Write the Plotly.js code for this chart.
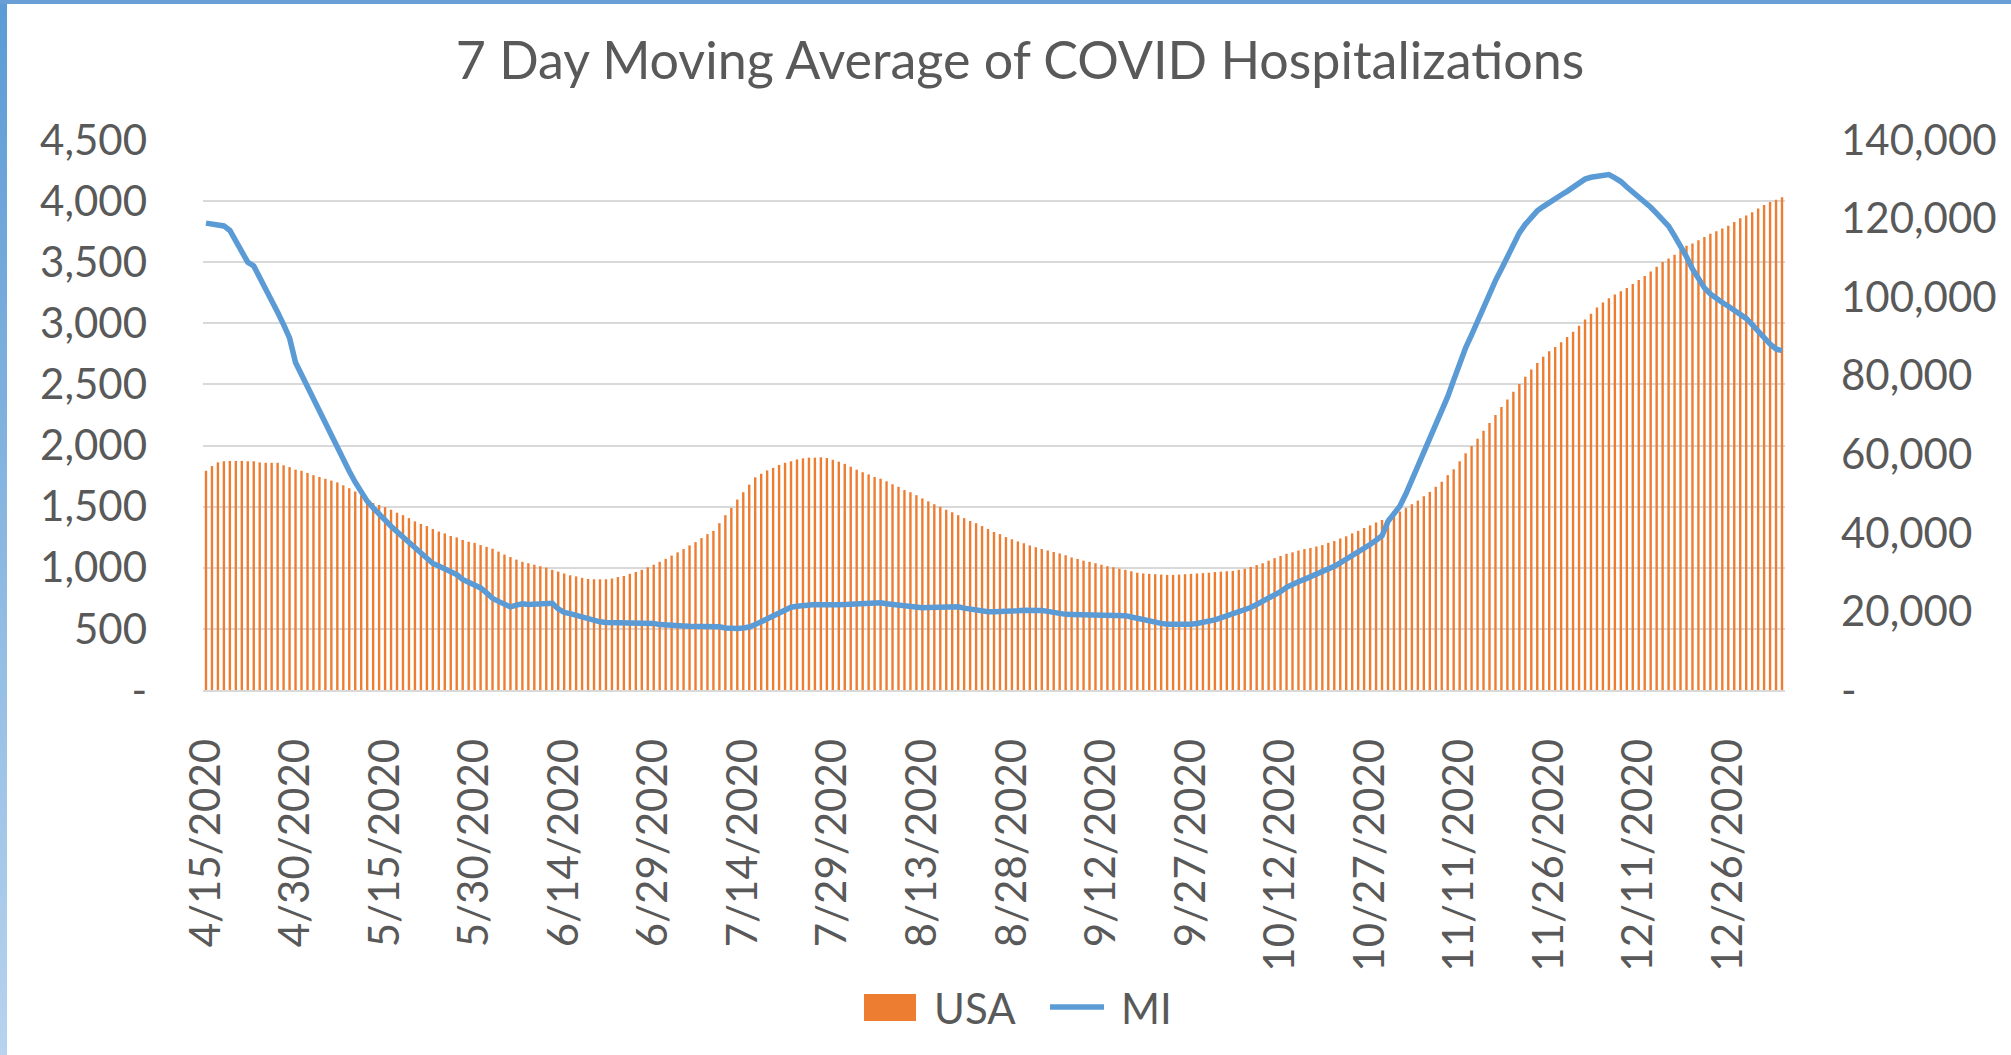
<!DOCTYPE html>
<html><head><meta charset="utf-8">
<script src="https://cdn.plot.ly/plotly-3.0.1.min.js"></script>
<style>
html,body{margin:0;padding:0;background:#fff;overflow:hidden}
#chart{width:2011px;height:1055px}
#bl{position:absolute;left:0;top:0;width:7px;height:1055px;background:linear-gradient(#5b9bd5,#b7d3ee)}
#bt{position:absolute;left:0;top:0;width:2011px;height:4px;background:#6a9fd6}
</style></head><body>
<div id="chart"></div><div id="bl"></div><div id="bt"></div>
<script>
// first date of the daily series (categories run one per day)
const startDate = '2020-04-15';

// USA 7-day moving average of hospitalizations (right axis)
const usa = [
55805,57010,57940,58220,58310,58310,58310,58220,58220,57940,
57840,57840,57840,57200,56730,56080,55800,55250,54690,54230,
53770,53300,52840,52100,51360,50520,49500,48500,47600,47100,
46540,45890,45140,44500,43750,42920,42270,41720,40970,40320,
39860,39210,38840,38190,37730,37450,36890,36430,35970,35230,
34480,33840,33190,32630,32260,31890,31520,31150,30590,30130,
29660,29200,28920,28550,28270,28180,28180,28180,28370,28740,
29020,29570,30030,30590,31240,31890,32630,33370,34210,35040,
35870,36800,37640,38660,39680,40510,42460,44500,46350,48480,
50340,52280,54140,55060,55900,56550,57290,57840,58220,58680,
58960,59140,59140,59240,59050,58590,58120,57570,56830,56080,
55430,54880,54230,53770,53120,52380,51730,50890,50340,49590,
48760,48020,47280,46630,45890,45240,44500,43750,43010,42460,
41720,40970,40230,39680,38930,38380,37820,37360,36800,36340,
35870,35500,35130,34760,34300,33740,33370,32910,32630,32260,
31890,31520,31240,30870,30590,30220,29850,29660,29570,29480,
29390,29290,29290,29390,29480,29570,29660,29760,29850,30030,
30130,30220,30310,30590,30870,31330,31800,32260,32910,33560,
34110,34670,35040,35500,35870,36150,36520,36890,37450,37910,
38560,39120,39860,40510,41250,41900,42640,43290,43850,44770,
45420,46350,47280,48200,49320,50430,51730,53020,54690,56180,
58220,60260,62110,63970,66000,67950,69990,72030,73970,75920,
77870,79720,81580,83240,84820,86210,87320,88530,89830,91220,
92700,94280,95760,97340,98630,99750,100670,101510,102340,103360,
104380,105400,106510,107720,108920,109850,110780,111980,113090,113650,
114480,115320,116150,116800,117450,118190,119120,120050,120790,121620,
122550,123480,124220,124770,125420
];

// Michigan 7-day moving average of hospitalizations (left axis)
const mi = [
3820,3815,3800,3797,3760,3670,3570,3500,3470,3380,
3270,3180,3090,2990,2880,2680,2580,2480,2380,2280,
2170,2070,1980,1890,1790,1700,1620,1545,1490,1435,
1390,1340,1295,1250,1200,1155,1115,1075,1035,1015,
990,975,945,905,880,860,835,795,750,725,
700,680,695,705,700,700,702,705,710,665,
635,625,610,595,580,568,558,552,551,551,
551,551,551,551,551,545,535,530,528,526,
524,522,522,524,526,526,518,508,500,503,
508,515,535,560,585,610,635,660,677,685,
692,700,700,698,695,694,698,700,704,707,
710,713,715,713,705,700,692,683,674,670,
673,676,679,681,683,685,681,670,660,650,
645,641,641,641,641,643,648,653,656,655,
651,643,632,622,619,618,617,617,618,619,
620,620,618,614,608,597,585,573,566,556,
545,538,536,536,536,538,544,551,558,574,
590,606,622,640,655,675,700,724,750,777,
805,840,868,886,905,925,946,967,990,1013,
1040,1068,1095,1130,1160,1190,1225,1262,1380,1440,
1505,1605,1715,1840,1960,2065,2175,2290,2400,2535,
2670,2800,2905,3020,3135,3250,3350,3445,3540,3640,
3740,3810,3870,3920,3955,3990,4020,4050,4080,4115,
4150,4180,4195,4205,4210,4217,4190,4160,4115,4077,
4040,3995,3950,3900,3845,3795,3715,3640,3545,3445,
3360,3290,3240,3200,3170,3140,3105,3070,3040,2990,
2935,2885,2830,2790,2777
];

// x-axis tick labels (every 15th day)
const tickLabels = ['4/15/2020','4/30/2020','5/15/2020','5/30/2020','6/14/2020','6/29/2020',
  '7/14/2020','7/29/2020','8/13/2020','8/28/2020','9/12/2020','9/27/2020',
  '10/12/2020','10/27/2020','11/11/2020','11/26/2020','12/11/2020','12/26/2020'];

const leftTicks = [0,500,1000,1500,2000,2500,3000,3500,4000,4500];
const leftTickText = ['-','500','1,000','1,500','2,000','2,500','3,000','3,500','4,000','4,500'];
const rightTicks = [0,20000,40000,60000,80000,100000,120000,140000];
const rightTickText = ['-','20,000','40,000','60,000','80,000','100,000','120,000','140,000'];

const seriesNames = ['USA','MI'];
const colors = {USA:'#ED7D31', MI:'#5B9BD5'};

// build the category dates
function iso(d){return d.toISOString().slice(0,10);}
const dates = [];
const d0 = new Date(startDate+'T00:00:00Z');
for(let i=0;i<usa.length;i++){ dates.push(iso(new Date(d0.getTime()+i*86400000))); }
function toIso(s){const p=s.split('/');return p[2]+'-'+p[0].padStart(2,'0')+'-'+p[1].padStart(2,'0');}
const tickVals = tickLabels.map(toIso);

const txt = '#595959';
const FONT = 'Lato, "Open Sans", sans-serif';

const traces = [
  {type:'bar', x:dates, y:usa, name:seriesNames[0], yaxis:'y', marker:{color:colors.USA}, hoverinfo:'skip'},
  {type:'scatter', mode:'lines', x:dates, y:mi, name:seriesNames[1], yaxis:'y2', line:{color:colors.MI, width:5.5}, hoverinfo:'skip'}
];

// plot area in pixels: x 203..1785, y 140..690
const PL=203, PR=1785, PT=140, PB=690;
function px(x){return (x-PL)/(PR-PL);}
function py(y){return (PB-y)/(PB-PT);}

const layout = {
  width:2011, height:1055,
  paper_bgcolor:'#ffffff', plot_bgcolor:'#ffffff',
  margin:{l:PL, r:2011-PR, t:PT, b:1055-PB, pad:0},
  showlegend:false,
  bargap:0.6,
  hovermode:false,
  font:{family:FONT, color:txt},
  title:{text:'7 Day Moving Average of COVID Hospitalizations', font:{family:FONT, size:52, color:txt},
    xref:'container', yref:'container', x:1020/2011, xanchor:'center', y:1-61/1055, yanchor:'middle'},
  xaxis:{type:'date', range:['2020-04-14 12:00','2021-01-04 12:00'], tickmode:'array', tickvals:tickVals, ticktext:tickLabels,
    tickangle:-90, tickfont:{family:FONT, size:42, color:txt}, showgrid:false, zeroline:false,
    showline:true, linecolor:'#d9d9d9', linewidth:2, ticks:'', ticklabelstandoff:30, fixedrange:true},
  yaxis:{side:'right', range:[0,140000], tickmode:'array', tickvals:rightTicks, ticktext:rightTickText,
    tickfont:{family:FONT, size:42, color:txt}, showgrid:false, zeroline:false, showline:false, ticks:'',
    ticklabelstandoff:55, fixedrange:true},
  yaxis2:{overlaying:'y', side:'left', range:[0,4500], tickmode:'array', tickvals:leftTicks, ticktext:leftTickText,
    tickfont:{family:FONT, size:42, color:txt}, showgrid:true, gridcolor:'#d9d9d9', gridwidth:2, zeroline:false,
    showline:false, ticks:'', ticklabelstandoff:55, fixedrange:true},
  shapes:[
    {type:'rect', xref:'paper', yref:'paper', x0:px(864), x1:px(916), y0:py(1021), y1:py(994), fillcolor:colors.USA, line:{width:0}},
    {type:'line', xref:'paper', yref:'paper', x0:px(1050), x1:px(1104), y0:py(1007), y1:py(1007), line:{color:colors.MI, width:5.5}}
  ],
  annotations:[
    {xref:'paper', yref:'paper', x:px(932), y:py(1008), xanchor:'left', yanchor:'middle', showarrow:false, text:seriesNames[0], font:{family:FONT, size:42, color:txt}},
    {xref:'paper', yref:'paper', x:px(1119), y:py(1008), xanchor:'left', yanchor:'middle', showarrow:false, text:seriesNames[1], font:{family:FONT, size:42, color:txt}}
  ]
};

Plotly.newPlot('chart', traces, layout, {staticPlot:true, displayModeBar:false});
</script>
</body></html>
